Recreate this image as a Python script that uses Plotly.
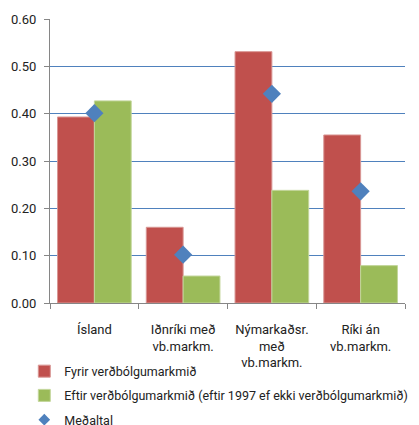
import plotly.graph_objects as go

categories = ["Ísland", "Iðnríki með<br>vb.markm.", "Nýmarkaðsr.<br>með<br>vb.markm.", "Ríki án<br>vb.markm."]
fyrir = [0.393, 0.160, 0.531, 0.355]
eftir = [0.427, 0.057, 0.238, 0.079]
medaltal = [0.401, 0.102, 0.442, 0.236]
y_ticks = [0.0, 0.1, 0.2, 0.3, 0.4, 0.5, 0.6]

font = dict(family="Roboto", size=13, color="#222222")

fig = go.Figure()
fig.add_trace(go.Bar(x=categories, y=fyrir, name="Fyrir verðbólgumarkmið",
                     marker=dict(color="#C0504D", line=dict(color="#D99694", width=1)),
                     legendgroup="a"))
fig.add_trace(go.Bar(x=categories, y=eftir, name="Eftir verðbólgumarkmið (eftir 1997 ef ekki verðbólgumarkmið)",
                     marker=dict(color="#9BBB59", line=dict(color="#C3D69B", width=1)),
                     legendgroup="b"))
fig.add_trace(go.Scatter(x=categories, y=medaltal, name="Meðaltal", mode="markers",
                         marker=dict(symbol="diamond", size=14, color="#4F81BD"),
                         legendgroup="c", showlegend=False))
fig.add_trace(go.Scatter(x=categories[:1], y=[None], name="Meðaltal", mode="markers",
                         marker=dict(symbol="diamond", size=9, color="#4F81BD"),
                         legendgroup="c"))

fig.update_layout(
    width=419, height=425,
    margin=dict(l=42, r=22, t=11, b=130, autoexpand=False),
    paper_bgcolor="white", plot_bgcolor="white",
    font=font,
    barmode="group", bargap=0.17, bargroupgap=0,
    showlegend=True,
    legend=dict(orientation="v", xref="paper", yref="container",
                x=-0.0724, xanchor="left", y=0.18, yanchor="top",
                traceorder="grouped", tracegroupgap=5, font=dict(family="Roboto", size=12.5, color="#222222"),
                itemwidth=30, bgcolor="rgba(0,0,0,0)"),
)
fig.update_xaxes(type="category", showline=True, linecolor="#868686", linewidth=1, ticks="outside", ticklen=5,
                 tickcolor="#868686", tickson="boundaries", showgrid=False, tickfont=font,
                 ticklabelstandoff=14, tickangle=0, automargin=False)
fig.update_yaxes(range=[0, 0.6], tickvals=y_ticks, tickformat=".2f", showline=True, linecolor="#868686",
                 linewidth=1, ticks="outside", ticklen=5, tickcolor="#868686", automargin=False,
                 ticklabelstandoff=5,
                 showgrid=True, gridcolor="#4F81BD", gridwidth=1, zeroline=False, tickfont=font)

fig.write_html("out.html")
